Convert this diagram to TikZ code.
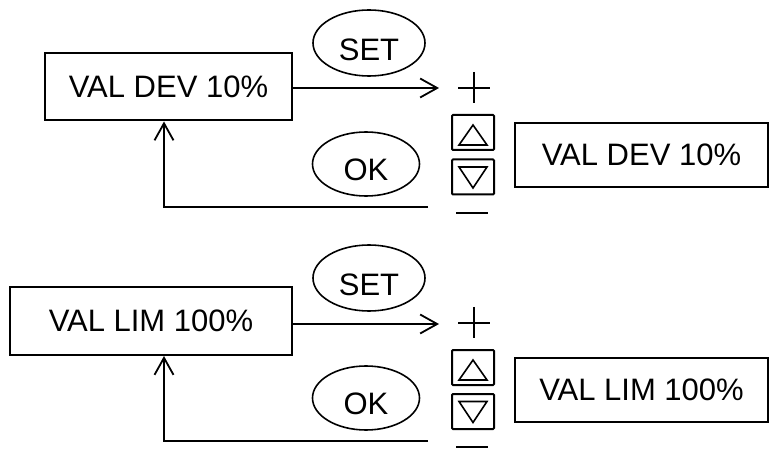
\documentclass[tikz,border=0pt]{standalone}
\usepackage{fontspec}
\setmainfont{Liberation Sans}
\usetikzlibrary{arrows.meta,shapes.geometric}
\begin{document}
\begin{tikzpicture}[x=1pt,y=-1pt,
  lbl/.style={font=\fontsize{31}{36}\selectfont,inner sep=0pt},
  dbox/.style={draw,line width=2pt,rectangle,inner sep=0pt,lbl},
  btn/.style={draw,line width=1.6pt,ellipse,inner sep=0pt},
  key/.style={draw,line width=2pt,rectangle,inner sep=0pt,minimum width=42pt,minimum height=35pt,rounded corners=1pt},
  conn/.style={line width=1.8pt},
  arr/.style={conn,-{Straight Barb[length=17pt,width=19pt,line width=1.8pt]}},
  sym/.style={line width=1.8pt}]
\useasboundingbox (0,0) rectangle (769,449);

% ---------- top panel ----------
\node[dbox,minimum width=247pt,minimum height=67pt] (b1) at (168.5,87) {VAL DEV 10\%};
\node[dbox,minimum width=253pt,minimum height=64pt] (b2) at (641.5,155) {VAL DEV 10\%};
\node[btn,minimum width=112pt,minimum height=66pt] (set1) at (369,43) {};
\node[lbl] (set1t) at (369,50) {SET};
\node[btn,minimum width=107pt,minimum height=64pt] (ok1) at (366,164) {};
\node[lbl] (ok1t) at (366,170) {OK};
\node[key] (up1) at (473,132.5) {};
\node[key] (dn1) at (473,177) {};
\draw[sym] (458,88) -- (490,88) (474,72) -- (474,103);
\draw[sym] (456,213) -- (488,213);
\draw[line width=1.6pt,line join=miter] (473,125) -- (459,145) -- (487,145) -- cycle;
\draw[line width=1.6pt,line join=miter] (473,188) -- (459,167) -- (487,167) -- cycle;
\coordinate (t1) at (439,88);
\coordinate (f1) at (428,207);
\coordinate (c1) at (164,207);
\draw[arr] (b1.east |- t1) -- (t1);
\draw[arr] (f1) -- (c1) -- (c1 |- b1.south);

% ---------- bottom panel ----------
\node[dbox,minimum width=282pt,minimum height=68pt] (b3) at (151,321) {VAL LIM 100\%};
\node[dbox,minimum width=253pt,minimum height=64pt] (b4) at (641.5,390) {VAL LIM 100\%};
\node[btn,minimum width=112pt,minimum height=66pt] (set2) at (369,278) {};
\node[lbl] (set2t) at (369,285) {SET};
\node[btn,minimum width=107pt,minimum height=64pt] (ok2) at (366,398) {};
\node[lbl] (ok2t) at (366,404) {OK};
\node[key] (up2) at (473,367.5) {};
\node[key] (dn2) at (473,411.5) {};
\draw[sym] (458,323) -- (490,323) (474,307) -- (474,338);
\draw[sym] (456,447) -- (488,447);
\draw[line width=1.6pt,line join=miter] (473,360) -- (459,380) -- (487,380) -- cycle;
\draw[line width=1.6pt,line join=miter] (473,422.5) -- (459,401.5) -- (487,401.5) -- cycle;
\coordinate (t2) at (439,324);
\coordinate (f2) at (428,441);
\coordinate (c2) at (164,441);
\draw[arr] (b3.east |- t2) -- (t2);
\draw[arr] (f2) -- (c2) -- (c2 |- b3.south);
\end{tikzpicture}
\end{document}
